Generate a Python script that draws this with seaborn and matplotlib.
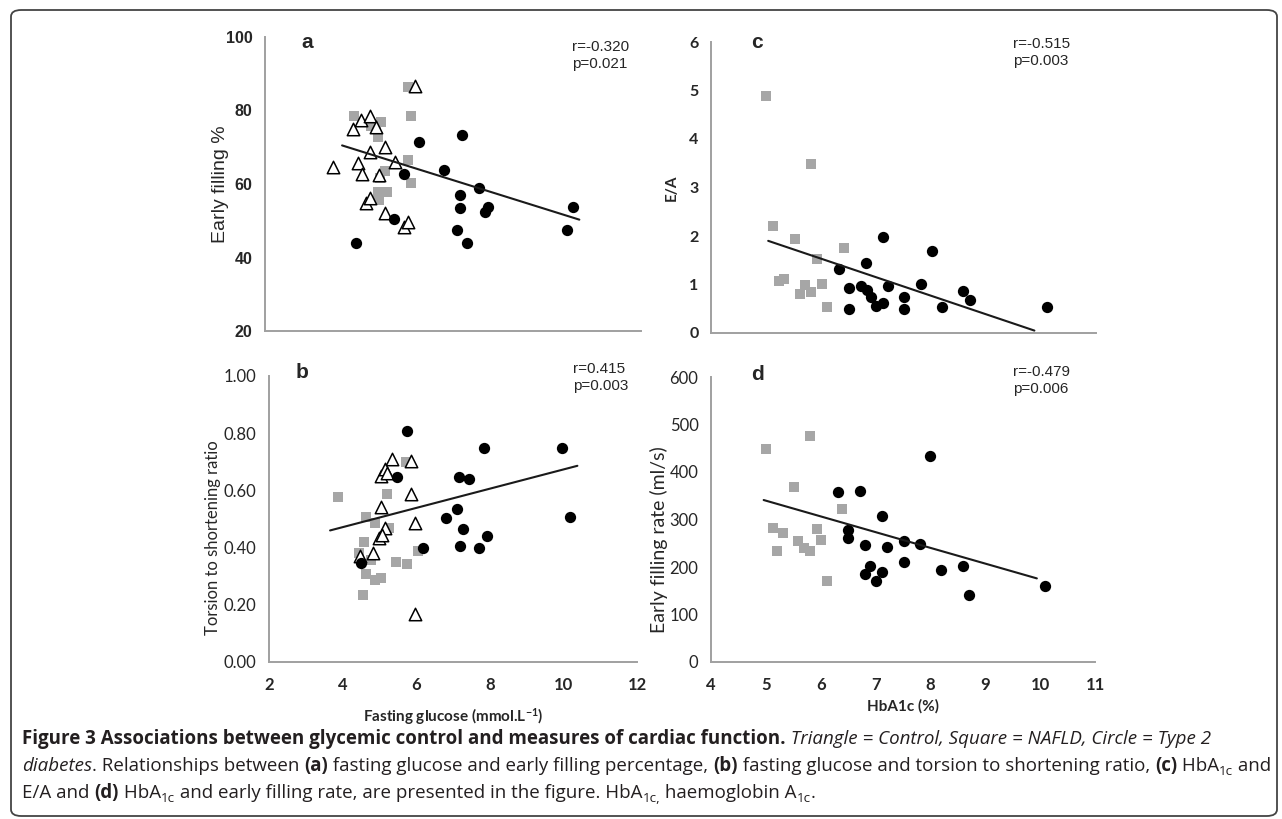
import numpy as np
import pandas as pd
import matplotlib
matplotlib.use("Agg")
from matplotlib import pyplot as plt
from matplotlib.patches import FancyBboxPatch
import seaborn as sb

sb.set_style("white")
plt.rcParams['mathtext.fontset'] = 'custom'
plt.rcParams['mathtext.rm'] = 'Lato'
plt.rcParams['mathtext.bf'] = 'Lato:bold'
plt.rcParams['mathtext.default'] = 'bf'

# ---- panel a: fasting glucose vs early filling %
a_ctrl_x = [3.8, 4.35, 4.55, 4.8, 4.48, 4.57, 4.8, 4.69, 4.8, 5.02, 5.2, 5.18, 5.45, 5.71, 5.79, 5.98, 4.95]
a_ctrl_y = [64.5, 75.0, 77.3, 78.6, 65.6, 62.6, 68.8, 54.7, 56.3, 62.5, 70.2, 52.0, 65.9, 48.4, 49.7, 86.7, 75.5]
a_nafld_x = [4.36, 4.82, 5.09, 5.0, 5.2, 5.07, 5.0, 5.02, 5.25, 5.79, 5.8, 5.89, 5.89, 4.95]
a_nafld_y = [78.5, 75.8, 77.0, 72.7, 63.6, 61.5, 57.9, 55.6, 57.9, 66.5, 86.5, 78.5, 60.2, 76.0]
a_t2d_x = [4.42, 5.43, 5.7, 6.09, 6.77, 7.23, 7.19, 7.19, 7.1, 7.38, 7.7, 7.84, 7.93, 10.02, 10.2]
a_t2d_y = [44.0, 50.6, 62.6, 71.3, 63.8, 73.4, 57.0, 53.4, 47.5, 44.0, 59.0, 52.3, 53.8, 47.5, 53.8]
a_trend_x = [4.05, 10.36]
a_trend_y = [70.5, 50.3]

# ---- panel b: fasting glucose vs torsion to shortening ratio
b_ctrl_x = [4.46, 4.82, 5.04, 5.16, 5.22, 5.34, 5.85, 5.04, 5.85, 5.96, 5.16, 4.98, 5.07, 5.96]
b_ctrl_y = [0.372, 0.382, 0.65, 0.674, 0.66, 0.709, 0.704, 0.541, 0.588, 0.486, 0.468, 0.433, 0.445, 0.168]
b_nafld_x = [3.88, 4.64, 4.58, 4.45, 4.78, 4.64, 4.87, 5.04, 4.55, 4.87, 5.25, 5.22, 5.46, 5.74, 5.71, 6.05]
b_nafld_y = [0.578, 0.507, 0.421, 0.38, 0.356, 0.306, 0.286, 0.294, 0.233, 0.486, 0.468, 0.588, 0.348, 0.342, 0.70, 0.388]
b_t2d_x = [4.49, 5.74, 5.47, 6.18, 6.8, 7.1, 7.17, 7.44, 7.28, 7.19, 7.7, 7.93, 7.84, 9.97, 10.18]
b_t2d_y = [0.347, 0.809, 0.648, 0.398, 0.504, 0.536, 0.648, 0.639, 0.465, 0.407, 0.398, 0.439, 0.748, 0.748, 0.506]
b_trend_x = [3.66, 10.38]
b_trend_y = [0.46, 0.686]

# ---- panel c: HbA1c vs E/A
c_nafld_x = [5.0, 5.13, 5.52, 5.23, 5.32, 5.81, 5.93, 5.7, 5.62, 5.81, 6.02, 6.11, 6.42]
c_nafld_y = [4.88, 2.21, 1.94, 1.08, 1.11, 3.49, 1.52, 0.98, 0.81, 0.84, 1.01, 0.53, 1.76]
c_t2d_x = [6.32, 6.5, 6.5, 6.72, 6.82, 6.84, 6.9, 7.0, 7.12, 7.12, 7.22, 7.5, 7.5, 7.81, 8.02, 8.2, 8.59, 8.7, 10.11]
c_t2d_y = [1.32, 0.92, 0.5, 0.96, 1.44, 0.88, 0.75, 0.56, 0.62, 1.97, 0.96, 0.74, 0.5, 1.01, 1.7, 0.53, 0.87, 0.68, 0.53]
c_trend_x = [5.04, 9.88]
c_trend_y = [1.9, 0.05]

# ---- panel d: HbA1c vs early filling rate
d_nafld_x = [5.0, 5.81, 5.52, 5.13, 5.31, 5.2, 5.59, 5.7, 5.81, 5.93, 6.0, 6.11, 6.38]
d_nafld_y = [448, 476, 368, 283, 271, 234, 255, 240, 234, 280, 256, 171, 322]
d_t2d_x = [6.32, 6.5, 6.5, 6.72, 6.81, 6.9, 6.81, 7.0, 7.12, 7.12, 7.2, 7.52, 7.52, 7.81, 7.99, 8.2, 8.59, 8.7, 10.09]
d_t2d_y = [357, 277, 262, 359, 247, 203, 185, 170, 189, 308, 243, 255, 210, 248, 434, 194, 203, 142, 161]
d_trend_x = [4.96, 9.94]
d_trend_y = [341, 176]

W, H = 1282, 819
fig = plt.figure(figsize=(W / 100, H / 100), dpi=100)
GRAY = '#a6a6a6'
SPINE = '#a0a0a0'


def px_axes(x0, x1, ytop, ybot):
    return fig.add_axes([x0 / W, 1 - ybot / H, (x1 - x0) / W, (ybot - ytop) / H])


def style_axes(ax, tick_font, tick_weight, tick_size=11):
    sb.despine(ax=ax)
    for s in ['left', 'bottom']:
        ax.spines[s].set_color(SPINE)
        ax.spines[s].set_linewidth(1.4)
    ax.tick_params(axis='x', direction='out', length=6, width=1.4, color=SPINE, pad=5)
    ax.tick_params(axis='y', direction='out', length=5, width=1.4, color=SPINE, pad=4)
    for lab in ax.get_xticklabels() + ax.get_yticklabels():
        lab.set_family(tick_font)
        lab.set_fontweight(tick_weight)
        lab.set_fontsize(tick_size)


def scatter_groups(ax, ctrl, nafld, t2d):
    if nafld is not None:
        sb.scatterplot(x=nafld[0], y=nafld[1], marker='s', s=55, color=GRAY,
                       edgecolor=GRAY, linewidth=0, ax=ax, zorder=3)
    if ctrl is not None:
        sb.scatterplot(x=ctrl[0], y=ctrl[1], marker='^', s=80, color='white',
                       edgecolor='black', linewidth=1.1, ax=ax, zorder=4)
    sb.scatterplot(x=t2d[0], y=t2d[1], marker='o', s=66, color='black',
                   edgecolor='black', linewidth=0, ax=ax, zorder=5)


def add_stats(x, y, r, p):
    fig.text(x / W, 1 - y / H, "r=%s\np=%s" % (r, p), fontsize=11,
             family='Liberation Sans', va='top', ha='left', linespacing=1.3)


# subplot a
ax = px_axes(265, 641, 37, 331)
scatter_groups(ax, (a_ctrl_x, a_ctrl_y), (a_nafld_x, a_nafld_y), (a_t2d_x, a_t2d_y))
ax.plot(a_trend_x, a_trend_y, color='#1a1a1a', lw=1.5, zorder=6)
ax.set_xlim(2, 12)
ax.set_ylim(20, 100)
ax.set_xticks(np.arange(2, 13, 2))
ax.set_xticklabels([])
ax.set_yticks(np.arange(20, 101, 20))
style_axes(ax, 'Liberation Sans', 'bold', 11.5)
ax.set_ylabel('Early filling %', fontsize=14, family='Liberation Sans')
ax.yaxis.set_label_coords(-0.097, 0.5)
fig.text(307 / W, 1 - 42 / H, 'a', fontsize=15, fontweight='bold',
         family='Liberation Sans', ha='center', va='center')
add_stats(572, 40, '-0.320', '0.021')

# subplot b
ax = px_axes(269, 637, 376, 662)
scatter_groups(ax, (b_ctrl_x, b_ctrl_y), (b_nafld_x, b_nafld_y), (b_t2d_x, b_t2d_y))
ax.plot(b_trend_x, b_trend_y, color='#1a1a1a', lw=1.5, zorder=6)
ax.set_xlim(2, 12)
ax.set_ylim(0, 1)
ax.set_xticks(np.arange(2, 13, 2))
ax.set_yticks(np.arange(0, 1.01, 0.2))
ax.set_yticklabels(['%.2f' % v for v in np.arange(0, 1.01, 0.2)])
style_axes(ax, 'Lato', 'normal', 12)
for lab in ax.get_xticklabels():
    lab.set_fontweight('bold')
ax.set_ylabel('Torsion to shortening ratio', fontsize=12, family='Lato')
ax.yaxis.set_label_coords(-0.13, 0.434)
ax.set_xlabel('Fasting glucose (mmol.L$^{-1}$)', fontsize=11, family='Lato',
              fontweight='bold', labelpad=9)
fig.text(302 / W, 1 - 373 / H, 'b', fontsize=15, fontweight='bold',
         family='Liberation Sans', ha='center', va='center')
add_stats(573, 362, '0.415', '0.003')

# subplot c
ax = px_axes(711, 1096, 42, 333)
scatter_groups(ax, None, (c_nafld_x, c_nafld_y), (c_t2d_x, c_t2d_y))
ax.plot(c_trend_x, c_trend_y, color='#1a1a1a', lw=1.5, zorder=6)
ax.set_xlim(4, 11)
ax.set_ylim(0, 6)
ax.set_xticks(np.arange(4, 12, 1))
ax.set_xticklabels([])
ax.set_yticks(np.arange(0, 7, 1))
style_axes(ax, 'Lato', 'bold', 11.5)
ax.set_ylabel('E/A', fontsize=11, family='Lato', fontweight='bold')
ax.yaxis.set_label_coords(-0.085, 0.5)
fig.text(757 / W, 1 - 42 / H, 'c', fontsize=15, fontweight='bold',
         family='Liberation Sans', ha='center', va='center')
add_stats(1013, 37, '-0.515', '0.003')

# subplot d
ax = px_axes(711, 1095, 377, 662)
scatter_groups(ax, None, (d_nafld_x, d_nafld_y), (d_t2d_x, d_t2d_y))
ax.plot(d_trend_x, d_trend_y, color='#1a1a1a', lw=1.5, zorder=6)
ax.set_xlim(4, 11)
ax.set_ylim(0, 600)
ax.set_xticks(np.arange(4, 12, 1))
ax.set_yticks(np.arange(0, 601, 100))
style_axes(ax, 'Lato', 'normal', 12)
for lab in ax.get_xticklabels():
    lab.set_fontweight('bold')
ax.set_ylabel('Early filling rate (ml/s)', fontsize=14, family='Lato')
ax.yaxis.set_label_coords(-0.113, 0.428)
ax.set_xlabel('HbA1c (%)', fontsize=11, family='Lato', fontweight='bold', labelpad=4)
fig.text(758 / W, 1 - 375 / H, 'd', fontsize=15, fontweight='bold',
         family='Liberation Sans', ha='center', va='center')
add_stats(1013, 365, '-0.479', '0.006')

# caption with mixed styles
cap_lines = [
    [("Figure 3 Associations between glycemic control and measures of cardiac function.", 'b'),
     (" Triangle = Control, Square = NAFLD, Circle = Type 2", 'i')],
    [("diabetes", 'i'), (". Relationships between ", 'n'), ("(a)", 'b'),
     (" fasting glucose and early filling percentage, ", 'n'), ("(b)", 'b'),
     (" fasting glucose and torsion to shortening ratio, ", 'n'), ("(c)", 'b'),
     (" HbA", 'n'), ("1c", 's'), (" and", 'n')],
    [("E/A and ", 'n'), ("(d)", 'b'), (" HbA", 'n'), ("1c", 's'),
     (" and early filling rate, are presented in the figure. HbA", 'n'), ("1c,", 's'),
     (" haemoglobin A", 'n'), ("1c", 's'), (".", 'n')],
]
cap_y = [744, 771, 798]
renderer = fig.canvas.get_renderer()


def draw_runs(runs, yb, fs, keep=True):
    x = 22
    made = []
    for txt, kind in runs:
        size = fs * 0.72 if kind == 's' else fs
        yy = yb + 4 if kind == 's' else yb
        t = fig.text(x / W, 1 - yy / H, txt, fontsize=size, family='Open Sans',
                     fontweight='bold' if kind == 'b' else 'normal',
                     fontstyle='italic' if kind == 'i' else 'normal',
                     ha='left', va='baseline', color='#231f20')
        x += t.get_window_extent(renderer).width
        made.append(t)
    if not keep:
        for t in made:
            t.remove()
    return x - 22


# size the caption so the second line spans the frame like the original
base = 11.5
w2 = draw_runs(cap_lines[1], cap_y[1], base, keep=False)
cap_fs = base * 1252 / w2
for runs, yb in zip(cap_lines, cap_y):
    draw_runs(runs, yb, cap_fs)

# rounded frame
frame = FancyBboxPatch((11 / W, 1 - 816 / H), (1277 - 11) / W, (816 - 10) / H,
                       boxstyle="round,pad=0,rounding_size=0.008",
                       transform=fig.transFigure, fill=False,
                       edgecolor='#444444', linewidth=1.3)
fig.patches.append(frame)

fig.savefig('out.png', dpi=100)
